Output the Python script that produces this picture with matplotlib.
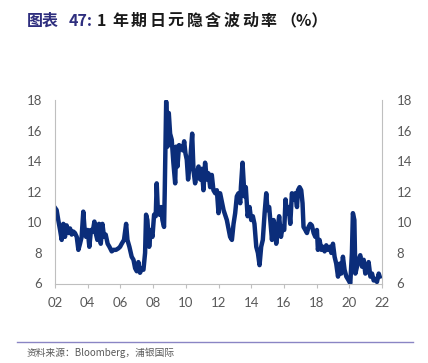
import matplotlib
matplotlib.use("Agg")
import matplotlib.pyplot as plt
from matplotlib.lines import Line2D

# decimal year, 1y JPY implied vol (%), ten per row
dates = [2002.00, 2002.10, 2002.20, 2002.31, 2002.41, 2002.51, 2002.61, 2002.71, 2002.82, 2002.92,
         2003.02, 2003.12, 2003.22, 2003.33, 2003.43, 2003.53, 2003.63, 2003.73, 2003.80, 2003.90,
         2004.00, 2004.10, 2004.20, 2004.31, 2004.41, 2004.49, 2004.59, 2004.69, 2004.80, 2004.90,
         2005.00, 2005.10, 2005.22, 2005.33, 2005.47, 2005.57, 2005.73, 2005.88, 2005.98, 2006.08,
         2006.22, 2006.35, 2006.43, 2006.55, 2006.69, 2006.80, 2006.90, 2007.00, 2007.10, 2007.20,
         2007.31, 2007.41, 2007.51, 2007.57, 2007.65, 2007.76, 2007.86, 2007.96, 2008.06, 2008.16,
         2008.22, 2008.29, 2008.39, 2008.49, 2008.57, 2008.67, 2008.71, 2008.80, 2008.88, 2008.96,
         2009.04, 2009.14, 2009.24, 2009.35, 2009.41, 2009.49, 2009.59, 2009.69, 2009.82, 2009.90,
         2009.98, 2010.06, 2010.14, 2010.27, 2010.39, 2010.47, 2010.57, 2010.67, 2010.78, 2010.88,
         2010.98, 2011.08, 2011.18, 2011.29, 2011.39, 2011.49, 2011.59, 2011.69, 2011.80, 2011.90,
         2012.00, 2012.10, 2012.31, 2012.51, 2012.71, 2012.82, 2012.92, 2013.02, 2013.12, 2013.22,
         2013.33, 2013.37, 2013.47, 2013.53, 2013.59, 2013.67, 2013.78, 2013.90, 2014.00, 2014.10,
         2014.20, 2014.31, 2014.41, 2014.51, 2014.61, 2014.71, 2014.82, 2014.92, 2015.00, 2015.10,
         2015.20, 2015.27, 2015.37, 2015.47, 2015.53, 2015.63, 2015.71, 2015.82, 2015.92, 2016.02,
         2016.10, 2016.18, 2016.29, 2016.39, 2016.49, 2016.59, 2016.69, 2016.80, 2016.86, 2016.96,
         2017.06, 2017.14, 2017.20, 2017.31, 2017.41, 2017.51, 2017.61, 2017.71, 2017.82, 2017.92,
         2018.02, 2018.08, 2018.18, 2018.29, 2018.39, 2018.49, 2018.59, 2018.69, 2018.80, 2018.90,
         2019.00, 2019.10, 2019.20, 2019.31, 2019.41, 2019.51, 2019.61, 2019.71, 2019.82, 2019.96,
         2020.06, 2020.16, 2020.22, 2020.31, 2020.37, 2020.47, 2020.57, 2020.67, 2020.78, 2020.88,
         2020.98, 2021.08, 2021.18, 2021.29, 2021.39, 2021.49, 2021.59, 2021.69, 2021.80, 2021.86]
vols = [10.95, 10.8, 10.15, 9.5, 8.85, 9.9, 9.05, 9.8, 9.3, 9.6,
        9.2, 9.4, 9.3, 9.05, 8.2, 8.6, 9.05, 10.7, 9.7, 9.05,
        9.5, 8.4, 9.5, 9.4, 10.05, 9.3, 8.85, 9.9, 8.6, 9.9,
        9.05, 9.2, 8.6, 8.4, 8.1, 8.2, 8.2, 8.3, 8.4, 8.6,
        8.85, 9.9, 8.85, 8.4, 7.75, 7.55, 7.0, 6.8, 7.4, 6.7,
        7.0, 6.9, 8.0, 10.5, 10.15, 8.4, 9.5, 9.05, 10.5, 10.4,
        12.55, 10.8, 10.5, 11.0, 10.15, 9.7, 11.9, 17.9, 14.95, 17.15,
        15.8, 15.4, 13.9, 12.55, 14.95, 13.65, 15.05, 14.95, 14.7, 15.3,
        14.5, 14.1, 12.8, 14.1, 15.8, 13.4, 12.55, 13.2, 13.65, 12.8,
        13.5, 12.1, 13.9, 12.8, 13.2, 12.3, 13.1, 12.1, 11.9, 12.1,
        10.6, 11.9, 10.8, 10.15, 9.05, 8.85, 9.9, 10.6, 11.7, 11.9,
        11.25, 12.3, 13.9, 12.8, 11.7, 12.3, 10.4, 11.0, 10.15, 10.4,
        9.9, 8.4, 8.0, 7.2, 8.4, 8.85, 10.6, 11.9, 10.8, 11.0,
        9.7, 8.85, 10.15, 9.5, 8.6, 9.7, 10.4, 9.05, 9.7, 9.5,
        11.5, 10.6, 11.0, 9.9, 11.9, 11.5, 11.9, 11.0, 12.1, 12.3,
        12.1, 11.25, 9.7, 9.5, 9.3, 9.7, 9.9, 9.8, 9.3, 9.05,
        9.5, 8.2, 8.85, 8.2, 8.4, 8.1, 8.5, 8.2, 8.4, 8.0,
        8.6, 7.75, 7.3, 6.45, 7.3, 6.65, 7.75, 6.9, 6.45, 6.2,
        6.0, 8.0, 10.6, 10.15, 6.65, 7.1, 7.55, 7.85, 7.1, 7.55,
        6.65, 6.75, 7.4, 6.45, 6.65, 6.2, 6.3, 6.1, 6.65, 6.45]
xtick_years = list(range(2002, 2023, 2))
xtick_labels = ["02", "04", "06", "08", "10", "12", "14", "16", "18", "20", "22"]
yticks = [6, 8, 10, 12, 14, 16, 18]

W, H = 428, 363
fig = plt.figure(figsize=(W / 100, H / 100), dpi=100)
ax = fig.add_axes([55 / W, 1 - 283.5 / H, (382 - 55) / W, (283.5 - 100) / H])

ax.plot(dates, vols, color="#0b2d7a", lw=3.2, solid_joinstyle="round")

ax.set_xlim(2002, 2022)
ax.set_ylim(6, 18)
ax.set_xticks(xtick_years)
ax.set_xticklabels(xtick_labels)
ax.set_yticks(yticks)
ax.tick_params(axis="x", length=3, color="#bfbfbf", labelsize=9.5,
               labelcolor="#595959", pad=7)
ax.tick_params(axis="y", length=0, labelsize=9.5, labelcolor="#595959", pad=9)
for lab in ax.get_xticklabels() + ax.get_yticklabels():
    lab.set_family("Lato")

ax.spines["top"].set_visible(False)
for s in ("left", "right", "bottom"):
    ax.spines[s].set_color("#bfbfbf")
    ax.spines[s].set_linewidth(0.8)

# right side labels
ax2 = ax.twinx()
ax2.set_ylim(6, 18)
ax2.set_yticks(yticks)
ax2.tick_params(axis="y", length=0, labelsize=9.5, labelcolor="#595959", pad=10.5)
for lab in ax2.get_yticklabels():
    lab.set_family("Lato")
for s in ax2.spines.values():
    s.set_visible(False)

# title (wide letter spacing in the original, so characters are set one by one)
cjk = ["Noto Sans CJK SC", "DejaVu Sans"]
ty = 1 - 21 / H
fig.text(27 / W, ty, "图表", fontsize=11.5, fontweight="bold",
         color="#2e2e7e", family=cjk, va="center")
fig.text(69 / W, ty, "47:", fontsize=11.5, fontweight="bold",
         color="#2e2e7e", family=cjk, va="center")
fig.text(97 / W, ty, "1", fontsize=11.5, fontweight="bold",
         color="#1a1a1a", family=cjk, va="center")
for i, ch in enumerate("年期日元隐含波动率"):
    fig.text((112 + 18.6 * i) / W, ty, ch, fontsize=11.5, fontweight="bold",
             color="#1a1a1a", family=cjk, va="center")
fig.text(280 / W, ty, "（%）", fontsize=11.5, fontweight="bold",
         color="#1a1a1a", family=cjk, va="center")

# bottom rule and source
fig.add_artist(Line2D([17 / W, 413 / W], [1 - 341.5 / H, 1 - 341.5 / H],
                      transform=fig.transFigure, color="#8a85c4", lw=1.0))
fig.text(27 / W, 1 - 353 / H, "资料来源：Bloomberg，浦银国际", fontsize=7.0,
         color="#595959", family=cjk, va="center")

fig.savefig("out.png", dpi=100)
